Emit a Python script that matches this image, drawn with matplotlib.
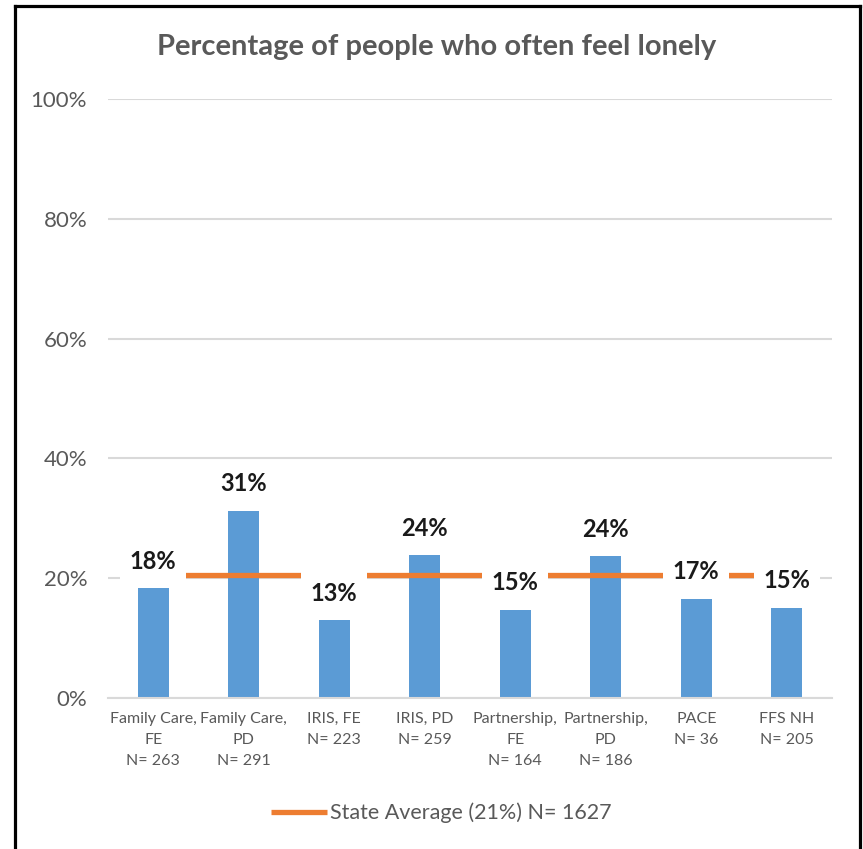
import numpy as np
import matplotlib
matplotlib.use("Agg")
import matplotlib.pyplot as plt
from matplotlib.lines import Line2D

# Data
categories = ["Family Care,\nFE\nN= 263", "Family Care,\nPD\nN= 291", "IRIS, FE\nN= 223",
              "IRIS, PD\nN= 259", "Partnership,\nFE\nN= 164", "Partnership,\nPD\nN= 186",
              "PACE\nN= 36", "FFS NH\nN= 205"]
values = [18.3, 31.3, 13.0, 23.8, 14.7, 23.7, 16.6, 15.1]
labels = ["18%", "31%", "13%", "24%", "15%", "24%", "17%", "15%"]
state_avg = 20.6
legend_label = "State Average (21%) N= 1627"

plt.rcParams['font.family'] = ['Lato', 'DejaVu Sans']
gray = "#595959"
blue = "#5B9BD5"
orange = "#ED7D31"

fig = plt.figure(figsize=(8.63, 8.49), dpi=100)
ax = fig.add_axes([108 / 863, 151 / 849, 724 / 863, 599 / 849])

x = np.arange(len(categories))
ax.bar(x, values, width=0.34, color=blue, zorder=2)
ax.plot(x, [state_avg] * len(x), color=orange, lw=3.8, solid_capstyle="butt",
        zorder=3, label=legend_label)

for xi, v, lab in zip(x, values, labels):
    ax.annotate(lab, (xi, v), xytext=(0, 27), textcoords="offset pixels",
                ha="center", va="center", fontsize=17, fontweight="bold",
                color="#1a1a1a", zorder=4,
                bbox=dict(boxstyle="square,pad=0.4", fc="white", ec="none"))

ax.set_xlim(-0.5, len(x) - 0.5)
ax.set_ylim(0, 100)
ax.set_yticks(range(0, 101, 20))
ax.set_yticklabels([f"{t}%" for t in range(0, 101, 20)])
ax.set_xticks(x)
ax.set_xticklabels(categories, linespacing=1.65)
ax.grid(axis="y", color="#D9D9D9", lw=1.5, zorder=0)
ax.set_axisbelow(True)
for s in ["top", "right", "left"]:
    ax.spines[s].set_visible(False)
ax.spines["bottom"].set_color("#D9D9D9")
ax.spines["bottom"].set_linewidth(1.5)
ax.tick_params(axis="both", length=0, colors=gray)
ax.tick_params(axis="y", labelsize=16, pad=15)
ax.tick_params(axis="x", labelsize=11.5, pad=10)

fig.suptitle("Percentage of people who often feel lonely", x=437 / 863, y=1 - 47 / 849,
             va="center", fontsize=21, fontweight="bold", color=gray)

leg = fig.legend(loc="center", bbox_to_anchor=(441 / 863, 1 - 813 / 849), frameon=False,
                 fontsize=15.5, handlelength=2.6, handletextpad=0.15, labelcolor=gray)

# frame around chart (open at the bottom)
for xs, ys in [((14.5, 14.5), (849, 5.5)), ((14.5, 859.5), (5.5, 5.5)), ((859.5, 859.5), (5.5, 849))]:
    fig.add_artist(Line2D([a / 863 for a in xs], [1 - b / 849 for b in ys],
                          color="black", lw=2.3, transform=fig.transFigure))

fig.savefig("out.png", dpi=100)
